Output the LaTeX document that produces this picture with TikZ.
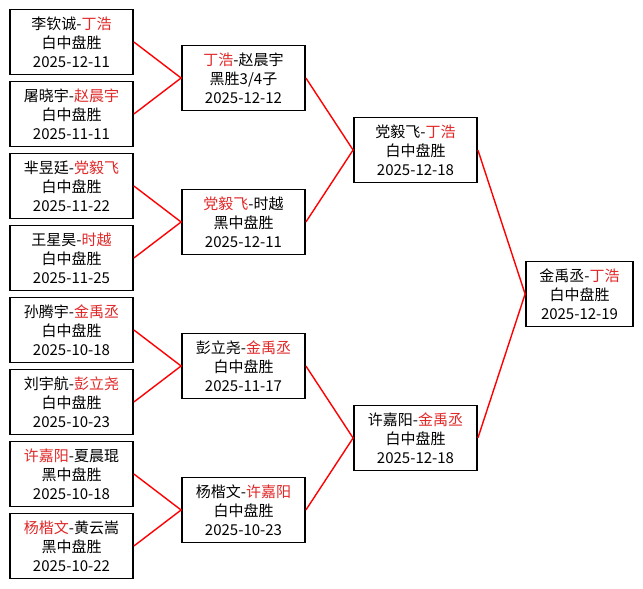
\documentclass[tikz,border=0pt]{standalone}
\usepackage{fontspec}
\setmainfont{Noto Sans CJK SC}
\definecolor{winred}{RGB}{225,40,40}
\newcommand{\win}[1]{\textcolor{winred}{#1}}

\begin{document}
\begin{tikzpicture}[x=1pt,y=-1pt,
    game/.style={draw, line width=1.8pt, minimum width=123pt, minimum height=65pt,
      align=center, inner sep=0pt, font=\fontsize{15}{19}\selectfont},
    edge/.style={red, line width=1.4pt}]
    \useasboundingbox[fill=white] (0,0) rectangle (643,589);

    % first round
    \node[game] (r1a) at (71.5,42)  {李钦诚-\win{丁浩}\\白中盘胜\\2025-12-11};
    \node[game] (r1b) at (71.5,114) {屠晓宇-\win{赵晨宇}\\白中盘胜\\2025-11-11};
    \node[game] (r1c) at (71.5,186) {芈昱廷-\win{党毅飞}\\白中盘胜\\2025-11-22};
    \node[game] (r1d) at (71.5,258) {王星昊-\win{时越}\\白中盘胜\\2025-11-25};
    \node[game] (r1e) at (71.5,330) {孙腾宇-\win{金禹丞}\\白中盘胜\\2025-10-18};
    \node[game] (r1f) at (71.5,402) {刘宇航-\win{彭立尧}\\白中盘胜\\2025-10-23};
    \node[game] (r1g) at (71.5,474) {\win{许嘉阳}-夏晨琨\\黑中盘胜\\2025-10-18};
    \node[game] (r1h) at (71.5,546) {\win{杨楷文}-黄云嵩\\黑中盘胜\\2025-10-22};

    % second round
    \node[game] (r2a) at (243.5,78)  {\win{丁浩}-赵晨宇\\黑胜3/4子\\2025-12-12};
    \node[game] (r2b) at (243.5,222) {\win{党毅飞}-时越\\黑中盘胜\\2025-12-11};
    \node[game] (r2c) at (243.5,366) {彭立尧-\win{金禹丞}\\白中盘胜\\2025-11-17};
    \node[game] (r2d) at (243.5,510) {杨楷文-\win{许嘉阳}\\白中盘胜\\2025-10-23};

    % semi-finals
    \node[game] (r3a) at (415.5,150) {党毅飞-\win{丁浩}\\白中盘胜\\2025-12-18};
    \node[game] (r3b) at (415.5,438) {许嘉阳-\win{金禹丞}\\白中盘胜\\2025-12-18};

    % final
    \node[game, minimum width=107pt] (fin) at (579.5,294) {金禹丞-\win{丁浩}\\白中盘胜\\2025-12-19};

    \draw[edge] (r1a.east) -- (r2a.west) -- (r1b.east);
    \draw[edge] (r1c.east) -- (r2b.west) -- (r1d.east);
    \draw[edge] (r1e.east) -- (r2c.west) -- (r1f.east);
    \draw[edge] (r1g.east) -- (r2d.west) -- (r1h.east);
    \draw[edge] (r2a.east) -- (r3a.west) -- (r2b.east);
    \draw[edge] (r2c.east) -- (r3b.west) -- (r2d.east);
    \draw[edge] (r3a.east) -- (fin.west) -- (r3b.east);
\end{tikzpicture}
\end{document}
